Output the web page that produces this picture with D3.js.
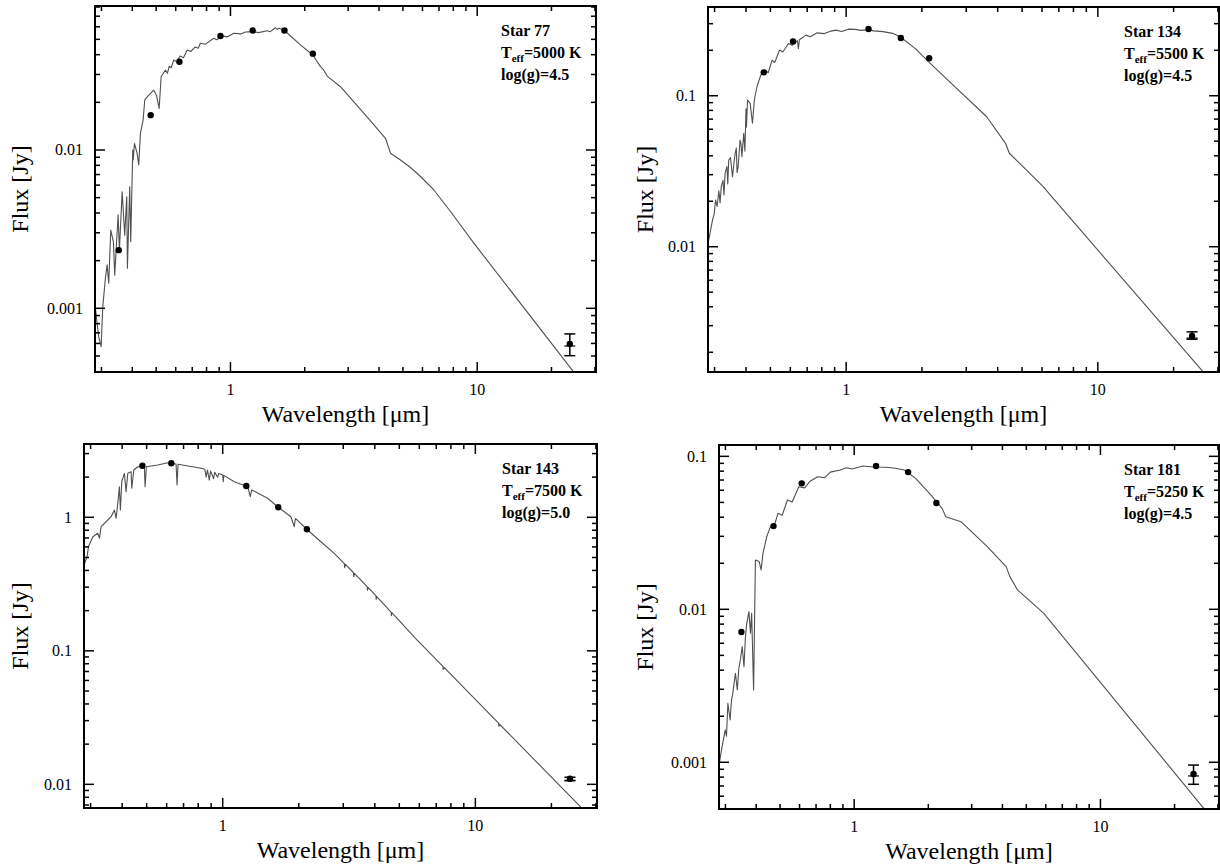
<!DOCTYPE html>
<html><head><meta charset="utf-8">
<script src="https://cdn.jsdelivr.net/npm/d3@7"></script>
<style>
body{margin:0;background:#fff}
svg{display:block}
text{font-family:"Liberation Serif","Times New Roman",serif;fill:#000}
</style>
</head><body>
<svg id="chart" width="1220" height="864"></svg>
<script>
// ---------------- DATA ----------------
const xDomain = [0.2825, 30.3];
const xTickLabels = ["1", "10"];
const xTitle = "Wavelength [\u03bcm]";
const yTitle = "Flux [Jy]";

const starNames = ["Star 77", "Star 134", "Star 143", "Star 181"];
const starTeff = ["5000 K", "5500 K", "7500 K", "5250 K"];
const starLogg = ["4.5", "4.5", "5.0", "4.5"];
const yDomains = [[0.000396, 0.0812], [0.00148, 0.387], [0.00665, 3.54], [0.000495, 0.1186]];
const yTickLabels = [["0.001", "0.01"], ["0.01", "0.1"], ["0.01", "0.1", "1"], ["0.001", "0.01", "0.1"]];

// model spectra: [wavelength (um), flux (Jy)]
const star77Model = [[0.2825,0.00105],[0.2924,0.000662],[0.2991,0.000572],[0.3037,0.00102],[0.3113,0.00155],[0.3164,0.00188],[0.3211,0.00144],[0.3272,0.00312],[0.3355,0.00263],[0.3396,0.00162],[0.3505,0.00389],[0.3548,0.00234],[0.3639,0.00545],[0.3728,0.0029],[0.3799,0.00507],[0.3823,0.00179],[0.3906,0.00586],[0.3943,0.00263],[0.4018,0.01],[0.4033,0.00865],[0.4083,0.011],[0.4185,0.00953],[0.4248,0.00804],[0.4316,0.01275],[0.4427,0.0155],[0.4494,0.0207],[0.4665,0.0222],[0.4887,0.0239],[0.5012,0.0222],[0.514,0.0183],[0.5237,0.029],[0.5451,0.032],[0.555,0.0305],[0.565,0.0338],[0.575,0.0331],[0.5891,0.037],[0.605,0.0361],[0.625,0.0392],[0.645,0.0383],[0.6677,0.0428],[0.69,0.0419],[0.72,0.0448],[0.74,0.0439],[0.7556,0.0472],[0.79,0.0465],[0.8557,0.0508],[0.88,0.0497],[0.93,0.0526],[0.97,0.0518],[1.031,0.0546],[1.1,0.0541],[1.15,0.0556],[1.243,0.0559],[1.3,0.0551],[1.409,0.0567],[1.45,0.0559],[1.52,0.0592],[1.55,0.0578],[1.57,0.0587],[1.645,0.0573],[1.922,0.0461],[2.155,0.0398],[2.316,0.0336],[2.38,0.0322],[2.466,0.0293],[2.792,0.0251],[3.47,0.0171],[4.25,0.01186],[4.454,0.00953],[4.887,0.00865],[5.365,0.00775],[5.891,0.0068],[6.672,0.00559],[7.796,0.00409],[9.69,0.00258],[24.27,0.000407],[30.3,0.000261]];
const star134Model = [[0.2825,0.0105],[0.2853,0.0114],[0.2944,0.015],[0.299,0.0165],[0.3027,0.0204],[0.307,0.0185],[0.312,0.0235],[0.3155,0.0195],[0.3189,0.025],[0.324,0.0275],[0.327,0.022],[0.3302,0.0306],[0.336,0.034],[0.3385,0.026],[0.3415,0.0375],[0.347,0.039],[0.3536,0.0291],[0.358,0.0355],[0.3622,0.0416],[0.366,0.045],[0.3686,0.031],[0.3722,0.0339],[0.3788,0.0509],[0.382,0.048],[0.3853,0.0395],[0.3918,0.0564],[0.396,0.043],[0.4,0.082],[0.4015,0.062],[0.4057,0.0937],[0.4154,0.0891],[0.4243,0.0657],[0.4317,0.0937],[0.4421,0.1147],[0.4578,0.137],[0.4772,0.148],[0.49,0.142],[0.5077,0.172],[0.52,0.166],[0.5437,0.201],[0.56,0.195],[0.59,0.222],[0.61,0.216],[0.64,0.232],[0.646,0.205],[0.652,0.235],[0.6921,0.252],[0.72,0.246],[0.7674,0.261],[0.82,0.258],[0.87,0.268],[0.9116,0.272],[0.96,0.266],[1.02,0.276],[1.083,0.275],[1.15,0.271],[1.22,0.274],[1.287,0.269],[1.4,0.266],[1.53,0.259],[1.638,0.246],[1.879,0.206],[2.159,0.164],[2.655,0.118],[3.618,0.0726],[4.298,0.0484],[4.45,0.0416],[6.066,0.025],[6.726,0.0204],[25.8,0.00153],[30.3,0.00112]];
const star143Model = [[0.2825,0.4393],[0.2905,0.5068],[0.2942,0.6022],[0.3062,0.7156],[0.3204,0.7589],[0.3252,0.6963],[0.3302,0.8504],[0.3509,0.9545],[0.3617,1.01],[0.3727,1.134],[0.3785,0.983],[0.3844,1.273],[0.39,1.695],[0.3936,1.134],[0.3986,1.848],[0.4082,2.136],[0.4146,1.555],[0.4211,2.136],[0.4339,2.196],[0.4367,1.649],[0.4447,2.262],[0.4612,2.393],[0.4898,2.393],[0.4929,1.695],[0.4988,2.393],[0.5534,2.465],[0.6061,2.564],[0.6537,2.507],[0.6597,1.746],[0.6657,2.495],[0.8208,2.328],[0.85,2.29],[0.86,2.0],[0.87,2.26],[0.885,1.9],[0.895,2.22],[0.92,1.95],[0.93,2.17],[0.955,2.0],[0.965,2.13],[1.0,2.07],[1.005,1.85],[1.01,2.06],[1.111,1.848],[1.256,1.695],[1.286,1.427],[1.302,1.602],[1.506,1.388],[1.65,1.2],[1.862,1.01],[1.919,0.8504],[1.94,0.98],[2.168,0.8034],[2.447,0.6563],[2.763,0.5374],[3.03,0.45],[3.04,0.42],[3.06,0.444],[3.29,0.386],[3.3,0.36],[3.32,0.38],[3.73,0.303],[3.74,0.284],[3.76,0.299],[4.04,0.259],[4.05,0.243],[4.07,0.255],[4.64,0.195],[4.65,0.183],[4.67,0.193],[5.884,0.1205],[7.44,0.0766],[7.46,0.0725],[7.5,0.0754],[12.35,0.0287],[12.4,0.0272],[12.45,0.0283],[26.04,0.0068],[30.3,0.0050]];
const star181Model = [[0.2825,0.00098],[0.2841,0.00101],[0.2891,0.0012],[0.2994,0.00163],[0.303,0.00148],[0.307,0.00243],[0.3134,0.00189],[0.3175,0.00255],[0.3215,0.00283],[0.3294,0.00382],[0.3353,0.00297],[0.34,0.0041],[0.3448,0.00466],[0.351,0.0057],[0.3569,0.00422],[0.3615,0.0065],[0.3662,0.0081],[0.3738,0.00965],[0.3792,0.00697],[0.3834,0.00942],[0.3904,0.00297],[0.3971,0.021],[0.4113,0.0205],[0.4187,0.0181],[0.4262,0.0232],[0.4413,0.0298],[0.4572,0.0347],[0.47,0.0338],[0.4905,0.0424],[0.51,0.0412],[0.5357,0.0518],[0.56,0.0503],[0.5955,0.0633],[0.63,0.0622],[0.66,0.0685],[0.7102,0.0736],[0.76,0.0725],[0.8,0.0788],[0.8777,0.0814],[0.93,0.0842],[0.98,0.0826],[1.085,0.0864],[1.2,0.0852],[1.34,0.0848],[1.45,0.0838],[1.598,0.0814],[1.776,0.0718],[2.047,0.0559],[2.275,0.0457],[2.355,0.0403],[2.714,0.0374],[3.471,0.0257],[4.141,0.019],[4.291,0.0163],[4.603,0.0134],[5.888,0.0094],[25.92,0.000513],[30.3,0.00038]];

// photometry: [wavelength (um), flux (Jy)]
const star77Phot = [[0.3525,0.00233],[0.475,0.0166],[0.621,0.0361],[0.911,0.0525],[1.231,0.0568],[1.655,0.0568],[2.157,0.0406]];
const star134Phot = [[0.4706,0.1429],[0.615,0.229],[1.227,0.2767],[1.649,0.241],[2.137,0.177]];
const star143Phot = [[0.481,2.435],[0.626,2.538],[1.24,1.716],[1.659,1.188],[2.154,0.813]];
const star181Phot = [[0.3483,0.0071],[0.4703,0.035],[0.6124,0.0666],[1.227,0.0864],[1.656,0.0789],[2.157,0.0495]];

// 24 um point: [wavelength, flux, low, high]
const star77Mips = [23.73, 0.000595, 0.000502, 0.000689];
const star134Mips = [23.68, 0.00256, 0.00244, 0.00273];
const star143Mips = [23.69, 0.01101, 0.0107, 0.0113];
const star181Mips = [23.88, 0.000839, 0.000718, 0.000959];

// ---------------- LAYOUT ----------------
const panels = [
  {box:[95, 6, 596, 372], model: star77Model, phot: star77Phot, mips: star77Mips},
  {box:[708, 7, 1219, 372], model: star134Model, phot: star134Phot, mips: star134Mips},
  {box:[84, 444, 597, 808], model: star143Model, phot: star143Phot, mips: star143Mips},
  {box:[719, 445, 1219, 809], model: star181Model, phot: star181Phot, mips: star181Mips}
];

const svg = d3.select("#chart");
const defs = svg.append("defs");

panels.forEach((p, i) => {
  const [L, T, R, B] = p.box;
  const x = d3.scaleLog().domain(xDomain).range([L, R]);
  const y = d3.scaleLog().domain(yDomains[i]).range([B, T]);
  const g = svg.append("g");

  defs.append("clipPath").attr("id", "clip" + i)
    .append("rect").attr("x", L).attr("y", T).attr("width", R - L).attr("height", B - T);

  // model spectrum
  const line = d3.line().x(d => x(d[0])).y(d => y(d[1]));
  g.append("path").datum(p.model)
    .attr("clip-path", "url(#clip" + i + ")")
    .attr("d", line).attr("fill", "none")
    .attr("stroke", "#505050").attr("stroke-width", 1.1).attr("stroke-linejoin", "round");

  // photometry dots
  g.selectAll("circle.ph").data(p.phot).join("circle")
    .attr("cx", d => x(d[0])).attr("cy", d => y(d[1])).attr("r", 3.2).attr("fill", "#000");

  // 24 um point with error bar
  const m = p.mips, mx = x(m[0]);
  g.append("line").attr("x1", mx).attr("x2", mx).attr("y1", y(m[2])).attr("y2", y(m[3]))
    .attr("stroke", "#000").attr("stroke-width", 1.5);
  [m[2], m[3]].forEach(v => {
    g.append("line").attr("x1", mx - 5.5).attr("x2", mx + 5.5).attr("y1", y(v)).attr("y2", y(v))
      .attr("stroke", "#000").attr("stroke-width", 1.5);
  });
  g.append("line").attr("x1", mx - 5.5).attr("x2", mx + 5.5).attr("y1", y(m[1]) + 2).attr("y2", y(m[1]) + 2)
    .attr("stroke", "#000").attr("stroke-width", 1.2);
  g.append("circle").attr("cx", mx).attr("cy", y(m[1])).attr("r", 3.2).attr("fill", "#000");

  // ticks (inward, all four sides)
  const tk = g.append("g").attr("stroke", "#000").attr("stroke-width", 1.5);
  const isMajor = v => Math.abs(Math.log10(v) - Math.round(Math.log10(v))) < 1e-6;
  x.ticks().forEach(v => {
    const len = isMajor(v) ? 10 : 5, px = x(v);
    if (px <= L + 1 || px >= R - 1) return;
    tk.append("line").attr("x1", px).attr("x2", px).attr("y1", B).attr("y2", B - len);
    tk.append("line").attr("x1", px).attr("x2", px).attr("y1", T).attr("y2", T + len);
  });
  y.ticks().forEach(v => {
    const len = isMajor(v) ? 10 : 5, py = y(v);
    if (py <= T + 1 || py >= B - 1) return;
    tk.append("line").attr("x1", L).attr("x2", L + len).attr("y1", py).attr("y2", py);
    tk.append("line").attr("x1", R).attr("x2", R - len).attr("y1", py).attr("y2", py);
  });

  // frame
  g.append("rect").attr("x", L).attr("y", T).attr("width", R - L).attr("height", B - T)
    .attr("fill", "none").attr("stroke", "#000").attr("stroke-width", 2);

  // tick labels
  xTickLabels.forEach(s => {
    g.append("text").attr("x", x(+s)).attr("y", B + 23).attr("text-anchor", "middle")
      .attr("font-size", 16).text(s);
  });
  yTickLabels[i].forEach(s => {
    g.append("text").attr("x", L - 12).attr("y", y(+s)).attr("dy", "0.33em").attr("text-anchor", "end")
      .attr("font-size", 16).text(s);
  });

  // axis titles
  g.append("text").attr("x", (L + R) / 2).attr("y", B + 50).attr("text-anchor", "middle")
    .attr("font-size", 24).text(xTitle);
  const yx = i % 2 === 0 ? 28 : 653;
  g.append("text").attr("transform", `translate(${yx},${(T + B) / 2}) rotate(-90)`)
    .attr("text-anchor", "middle").attr("font-size", 24).text(yTitle);

  // annotation
  const ax = R - 95;
  g.append("text").attr("x", ax).attr("y", T + 30).attr("font-size", 16).attr("font-weight", "bold").text(starNames[i]);
  const t2 = g.append("text").attr("x", ax).attr("y", T + 52).attr("font-size", 16).attr("font-weight", "bold");
  t2.append("tspan").text("T");
  t2.append("tspan").attr("font-size", 11).attr("dy", 4).text("eff");
  t2.append("tspan").attr("dy", -4).text("=" + starTeff[i]);
  g.append("text").attr("x", ax).attr("y", T + 74).attr("font-size", 16).attr("font-weight", "bold").text("log(g)=" + starLogg[i]);
});
</script>
</body></html>
